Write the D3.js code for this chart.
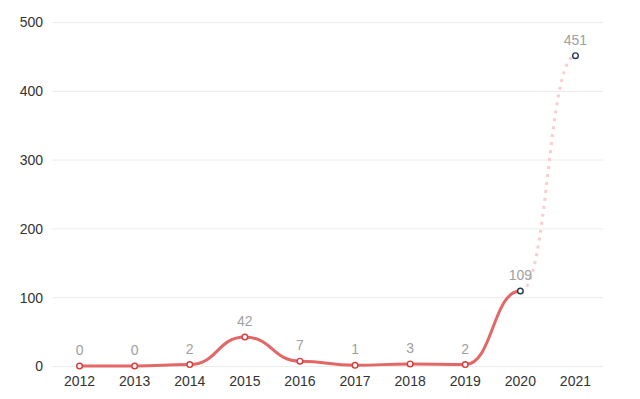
<!DOCTYPE html>
<html lang="en">
<head>
  <meta charset="UTF-8">
  <title>Yearly counts</title>
  <style>
    body {
      margin: 0;
      background: #fff;
      font-family: "Liberation Sans", Arial, sans-serif;
    }
    .grid line { stroke: #ececec; stroke-width: 1; }
    .tick text { fill: #333; font-size: 14px; }
    .value-label { fill: #a0a0a0; font-size: 14px; text-anchor: middle; }
  </style>
</head>
<body>
  <svg width="640" height="399"></svg>

  <script src="https://d3js.org/d3.v7.min.js"></script>
  <script>
    const years = ["2012", "2013", "2014", "2015", "2016", "2017", "2018", "2019", "2020", "2021"];
    const counts = [0, 0, 2, 42, 7, 1, 3, 2, 109, 451];
    const yTicks = [0, 100, 200, 300, 400, 500];
    const lastSolid = "2020"; // after this the line is a projection

    const svg = d3.select("svg");
    const plot = { left: 52, right: 603, top: 22, bottom: 366 };

    const data = years.map((yr, i) => ({ year: yr, value: counts[i] }));

    const x = d3.scaleBand().domain(years).range([plot.left, plot.right]);
    const cx = (d) => x(d.year) + x.bandwidth() / 2;
    const y = d3.scaleLinear().domain([0, 500]).range([plot.bottom, plot.top]);

    // gridlines
    svg.append("g")
      .attr("class", "grid")
      .selectAll("line")
      .data(yTicks)
      .enter()
      .append("line")
      .attr("x1", plot.left)
      .attr("x2", plot.right)
      .attr("y1", (d) => y(d) + 0.5)
      .attr("y2", (d) => y(d) + 0.5);

    // y axis labels
    svg.append("g")
      .attr("transform", `translate(${plot.left - 9},0)`)
      .call(d3.axisLeft(y).tickValues(yTicks).tickSize(0).tickPadding(0))
      .call((g) => g.select(".domain").remove())
      .selectAll("text")
      .attr("dy", "0.35em");

    // x axis labels
    svg.append("g")
      .attr("transform", `translate(0,${plot.bottom})`)
      .call(d3.axisBottom(x).tickSize(0).tickPadding(10))
      .call((g) => g.select(".domain").remove());

    const line = d3.line()
      .x(cx)
      .y((d) => y(d.value))
      .curve(d3.curveBumpX);

    const splitIdx = years.indexOf(lastSolid);

    // projected (dotted) part
    svg.append("path")
      .datum(data.slice(splitIdx))
      .attr("d", line)
      .attr("fill", "none")
      .attr("stroke", "#f8cdcd")
      .attr("stroke-width", 3)
      .attr("stroke-dasharray", "3,5");

    // solid part
    svg.append("path")
      .datum(data.slice(0, splitIdx + 1))
      .attr("d", line)
      .attr("fill", "none")
      .attr("stroke", "#e36767")
      .attr("stroke-width", 3)
      .attr("stroke-linecap", "round");

    // point markers
    svg.append("g")
      .selectAll("circle")
      .data(data)
      .enter()
      .append("circle")
      .attr("cx", cx)
      .attr("cy", (d) => y(d.value))
      .attr("r", 2.8)
      .attr("fill", "#fff")
      .attr("stroke", (d, i) => (i >= splitIdx ? "#2b3a4e" : "#d63a3a"))
      .attr("stroke-width", 1.4);

    // value labels
    svg.append("g")
      .selectAll("text")
      .data(data)
      .enter()
      .append("text")
      .attr("class", "value-label")
      .attr("x", cx)
      .attr("y", (d) => y(d.value) - 11)
      .text((d) => d.value);
  </script>
</body>
</html>
